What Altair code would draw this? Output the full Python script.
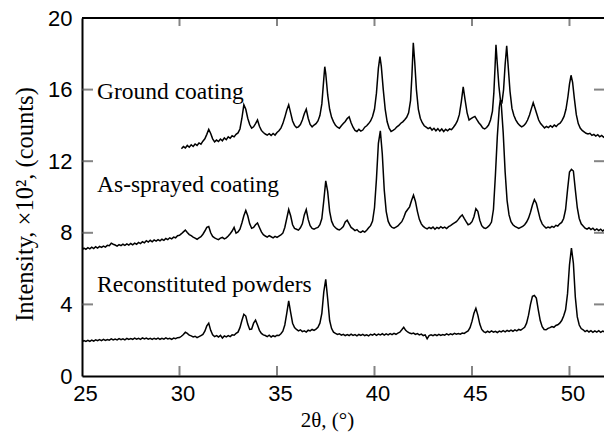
import altair as alt
import pandas as pd

# ---------------- data: (2theta, intensity x100) ----------------
recon_pts = [
(25.0,1.90),(25.1,1.98),(25.2,1.93),(25.3,1.99),(25.4,1.94),(25.5,2.01),(25.6,1.95),(25.7,2.02),(25.8,1.97),(25.9,2.03),
(26.0,1.98),(26.1,2.05),(26.2,1.99),(26.3,2.04),(26.4,2.00),(26.5,2.07),(26.6,2.01),(26.7,2.06),(26.8,2.02),(26.9,2.09),
(27.0,2.03),(27.1,2.08),(27.2,2.02),(27.3,2.10),(27.4,2.04),(27.5,2.09),(27.6,2.05),(27.7,2.12),(27.8,2.06),(27.9,2.11),
(28.0,2.05),(28.1,2.13),(28.2,2.07),(28.3,2.12),(28.4,2.06),(28.5,2.10),(28.6,2.04),(28.7,2.11),(28.8,2.06),(28.9,2.12),
(29.0,2.05),(29.1,2.10),(29.2,2.06),(29.3,2.13),(29.4,2.07),(29.5,2.11),(29.6,2.05),(29.7,2.12),(29.8,2.08),(29.9,2.14),
(30.0,2.15),(30.1,2.22),(30.2,2.32),(30.3,2.45),(30.4,2.38),(30.5,2.28),(30.6,2.24),(30.7,2.18),(30.8,2.22),(30.9,2.14),
(31.0,2.20),(31.1,2.26),(31.2,2.32),(31.3,2.50),(31.4,2.80),(31.5,2.95),(31.6,2.55),(31.7,2.30),(31.8,2.20),(31.9,2.26),
(32.0,2.18),(32.1,2.27),(32.2,2.12),(32.3,2.24),(32.4,2.18),(32.5,2.26),(32.6,2.20),(32.7,2.30),(32.8,2.28),(32.9,2.38),
(33.0,2.45),(33.1,2.70),(33.2,3.10),(33.3,3.45),(33.4,3.35),(33.5,2.90),(33.6,2.60),(33.7,2.62),(33.8,2.95),(33.9,3.12),
(34.0,2.85),(34.1,2.55),(34.2,2.38),(34.3,2.30),(34.4,2.26),(34.5,2.20),(34.6,2.28),(34.7,2.18),(34.8,2.25),(34.9,2.20),
(35.0,2.28),(35.1,2.26),(35.2,2.36),(35.3,2.50),(35.4,2.85),(35.5,3.50),(35.6,4.20),(35.7,3.55),(35.8,2.95),(35.9,2.70),
(36.0,2.60),(36.1,2.52),(36.2,2.58),(36.3,2.48),(36.4,2.52),(36.5,2.45),(36.6,2.56),(36.7,2.52),(36.8,2.60),(36.9,2.55),
(37.0,2.62),(37.1,2.72),(37.2,2.95),(37.3,3.50),(37.4,4.70),(37.5,5.40),(37.6,4.30),(37.7,3.10),(37.8,2.65),(37.9,2.45),
(38.0,2.38),(38.1,2.32),(38.2,2.36),(38.3,2.28),(38.4,2.33),(38.5,2.25),(38.6,2.31),(38.7,2.26),(38.8,2.34),(38.9,2.27),
(39.0,2.31),(39.1,2.24),(39.2,2.32),(39.3,2.27),(39.4,2.33),(39.5,2.26),(39.6,2.30),(39.7,2.24),(39.8,2.33),(39.9,2.28),
(40.0,2.35),(40.1,2.27),(40.2,2.34),(40.3,2.29),(40.4,2.36),(40.5,2.28),(40.6,2.35),(40.7,2.30),(40.8,2.37),(40.9,2.31),
(41.0,2.38),(41.1,2.33),(41.2,2.40),(41.3,2.45),(41.4,2.58),(41.5,2.72),(41.6,2.55),(41.7,2.46),(41.8,2.40),(41.9,2.36),
(42.0,2.40),(42.1,2.32),(42.2,2.37),(42.3,2.30),(42.4,2.34),(42.5,2.26),(42.6,2.30),(42.7,2.08),(42.8,2.26),(42.9,2.30),
(43.0,2.25),(43.1,2.31),(43.2,2.26),(43.3,2.33),(43.4,2.27),(43.5,2.32),(43.6,2.28),(43.7,2.35),(43.8,2.30),(43.9,2.36),
(44.0,2.31),(44.1,2.38),(44.2,2.33),(44.3,2.37),(44.4,2.34),(44.5,2.40),(44.6,2.38),(44.7,2.45),(44.8,2.52),(44.9,2.70),
(45.0,3.05),(45.1,3.50),(45.2,3.78),(45.3,3.40),(45.4,2.90),(45.5,2.60),(45.6,2.48),(45.7,2.42),(45.8,2.50),(45.9,2.44),
(46.0,2.52),(46.1,2.45),(46.2,2.50),(46.3,2.43),(46.4,2.51),(46.5,2.46),(46.6,2.53),(46.7,2.47),(46.8,2.55),(46.9,2.49),
(47.0,2.56),(47.1,2.50),(47.2,2.58),(47.3,2.52),(47.4,2.60),(47.5,2.56),(47.6,2.64),(47.7,2.72),(47.8,2.95),(47.9,3.40),
(48.0,4.00),(48.1,4.45),(48.2,4.50),(48.3,4.35),(48.4,3.70),(48.5,3.10),(48.6,2.75),(48.7,2.60),(48.8,2.58),(48.9,2.66),
(49.0,2.70),(49.1,2.76),(49.2,2.72),(49.3,2.82),(49.4,2.86),(49.5,2.95),(49.6,3.10),(49.7,3.35),(49.8,3.70),(49.9,4.60),
(50.0,6.20),(50.1,7.15),(50.2,6.30),(50.3,4.40),(50.4,3.30),(50.5,2.85),(50.6,2.65),(50.7,2.58),(50.8,2.48),(50.9,2.55),
(51.0,2.46),(51.1,2.53),(51.2,2.44),(51.3,2.52),(51.4,2.45),(51.5,2.53),(51.6,2.44),(51.7,2.51),(51.8,2.46)]

spray_pts = [
(25.0,7.05),(25.1,7.14),(25.2,7.08),(25.3,7.17),(25.4,7.10),(25.5,7.20),(25.6,7.12),(25.7,7.22),(25.8,7.15),(25.9,7.24),
(26.0,7.18),(26.1,7.26),(26.2,7.20),(26.3,7.30),(26.4,7.28),(26.5,7.42),(26.6,7.36),(26.7,7.32),(26.8,7.26),(26.9,7.34),
(27.0,7.28),(27.1,7.36),(27.2,7.30),(27.3,7.38),(27.4,7.31),(27.5,7.40),(27.6,7.33),(27.7,7.42),(27.8,7.36),(27.9,7.46),
(28.0,7.40),(28.1,7.50),(28.2,7.44),(28.3,7.56),(28.4,7.48),(28.5,7.58),(28.6,7.50),(28.7,7.60),(28.8,7.54),(28.9,7.62),
(29.0,7.55),(29.1,7.64),(29.2,7.58),(29.3,7.68),(29.4,7.62),(29.5,7.72),(29.6,7.66),(29.7,7.76),(29.8,7.72),(29.9,7.84),
(30.0,7.86),(30.1,7.95),(30.2,8.05),(30.3,8.15),(30.4,8.02),(30.5,7.90),(30.6,7.84),(30.7,7.76),(30.8,7.70),(30.9,7.64),
(31.0,7.72),(31.1,7.78),(31.2,7.92),(31.3,8.10),(31.4,8.30),(31.5,8.35),(31.6,8.00),(31.7,7.80),(31.8,7.72),(31.9,7.66),
(32.0,7.62),(32.1,7.70),(32.2,7.74),(32.3,7.66),(32.4,7.72),(32.5,7.82),(32.6,7.95),(32.7,8.10),(32.8,8.30),(32.9,7.98),
(33.0,8.05),(33.1,8.20),(33.2,8.55),(33.3,8.95),(33.4,9.25),(33.5,8.95),(33.6,8.50),(33.7,8.25),(33.8,8.30),(33.9,8.45),
(34.0,8.55),(34.1,8.30),(34.2,8.05),(34.3,7.90),(34.4,7.82),(34.5,7.76),(34.6,7.84),(34.7,7.78),(34.8,7.72),(34.9,7.80),
(35.0,7.74),(35.1,7.82),(35.2,7.88),(35.3,7.98),(35.4,8.30),(35.5,8.80),(35.6,9.30),(35.7,8.95),(35.8,8.45),(35.9,8.25),
(36.0,8.20),(36.1,8.15),(36.2,8.28),(36.3,8.50),(36.4,9.00),(36.5,9.30),(36.6,8.75),(36.7,8.40),(36.8,8.25),(36.9,8.20),
(37.0,8.26),(37.1,8.30),(37.2,8.45),(37.3,8.80),(37.4,9.80),(37.5,10.90),(37.6,10.30),(37.7,9.20),(37.8,8.65),(37.9,8.40),
(38.0,8.28),(38.1,8.20),(38.2,8.16),(38.3,8.24),(38.4,8.35),(38.5,8.60),(38.6,8.70),(38.7,8.50),(38.8,8.30),(38.9,8.22),
(39.0,8.12),(39.1,8.18),(39.2,8.06),(39.3,8.02),(39.4,8.10),(39.5,8.04),(39.6,8.14),(39.7,8.28),(39.8,8.40),(39.9,8.65),
(40.0,9.40),(40.1,11.00),(40.2,13.00),(40.3,13.70),(40.4,12.40),(40.5,10.40),(40.6,9.20),(40.7,8.65),(40.8,8.42),(40.9,8.30),
(41.0,8.26),(41.1,8.32),(41.2,8.38),(41.3,8.50),(41.4,8.62),(41.5,8.85),(41.6,9.15),(41.7,9.30),(41.8,9.45),(41.9,9.80),
(42.0,10.10),(42.1,9.75),(42.2,9.20),(42.3,8.75),(42.4,8.50),(42.5,8.36),(42.6,8.28),(42.7,8.22),(42.8,8.30),(42.9,8.24),
(43.0,8.32),(43.1,8.20),(43.2,8.30),(43.3,8.24),(43.4,8.34),(43.5,8.26),(43.6,8.32),(43.7,8.24),(43.8,8.34),(43.9,8.40),
(44.0,8.48),(44.1,8.55),(44.2,8.62),(44.3,8.75),(44.4,8.90),(44.5,9.00),(44.6,8.80),(44.7,8.62),(44.8,8.45),(44.9,8.50),
(45.0,8.62),(45.1,8.90),(45.2,9.35),(45.3,9.20),(45.4,8.70),(45.5,8.40),(45.6,8.28),(45.7,8.24),(45.8,8.32),(45.9,8.42),
(46.0,8.60),(46.1,9.30),(46.2,11.20),(46.3,13.40),(46.4,15.00),(46.45,15.40),(46.5,15.20),(46.6,13.60),(46.7,11.40),(46.8,9.80),
(46.9,9.00),(47.0,8.62),(47.1,8.45),(47.2,8.36),(47.3,8.30),(47.4,8.24),(47.5,8.30),(47.6,8.36),(47.7,8.45),(47.8,8.60),
(47.9,8.82),(48.0,9.15),(48.1,9.55),(48.2,9.85),(48.3,9.65),(48.4,9.20),(48.5,8.75),(48.6,8.50),(48.7,8.36),(48.8,8.26),
(48.9,8.32),(49.0,8.28),(49.1,8.36),(49.2,8.30),(49.3,8.42),(49.4,8.38),(49.5,8.50),(49.6,8.58),(49.7,8.80),(49.8,9.30),
(49.9,10.40),(50.0,11.40),(50.1,11.55),(50.2,11.45),(50.3,10.40),(50.4,9.40),(50.5,8.80),(50.6,8.50),(50.7,8.38),(50.8,8.26),
(50.9,8.20),(51.0,8.28),(51.1,8.18),(51.2,8.26),(51.3,8.14),(51.4,8.22),(51.5,8.12),(51.6,8.20),(51.7,8.10),(51.8,8.18)]

ground_pts = [
(30.1,12.70),(30.2,12.82),(30.3,12.74),(30.4,12.88),(30.5,12.78),(30.6,12.92),(30.7,12.82),(30.8,12.96),(30.9,12.88),(31.0,13.02),
(31.1,12.95),(31.2,13.12),(31.3,13.25),(31.4,13.50),(31.5,13.78),(31.6,13.55),(31.7,13.25),(31.8,13.08),(31.9,13.18),(32.0,13.10),
(32.1,13.24),(32.2,13.14),(32.3,13.30),(32.4,13.20),(32.5,13.36),(32.6,13.28),(32.7,13.42),(32.8,13.36),(32.9,13.50),(33.0,13.58),
(33.1,13.80),(33.2,14.40),(33.3,15.15),(33.4,14.90),(33.5,14.40),(33.6,14.05),(33.7,13.85),(33.8,13.92),(33.9,14.10),(34.0,14.30),
(34.1,13.95),(34.2,13.72),(34.3,13.60),(34.4,13.52),(34.5,13.46),(34.6,13.54),(34.7,13.44),(34.8,13.55),(34.9,13.46),(35.0,13.60),
(35.1,13.70),(35.2,13.85),(35.3,14.10),(35.4,14.45),(35.5,14.85),(35.6,15.15),(35.7,14.70),(35.8,14.25),(35.9,14.00),(36.0,13.88),
(36.1,13.92),(36.2,14.05),(36.3,14.30),(36.4,14.65),(36.5,14.90),(36.6,14.40),(36.7,14.05),(36.8,13.92),(36.9,14.02),(37.0,14.10),
(37.1,14.25),(37.2,14.55),(37.3,15.20),(37.4,16.60),(37.45,17.28),(37.5,16.90),(37.6,15.70),(37.7,14.90),(37.8,14.45),(37.9,14.20),
(38.0,14.00),(38.1,13.90),(38.2,13.84),(38.3,13.98),(38.4,14.10),(38.5,14.22),(38.6,14.38),(38.7,14.48),(38.8,14.15),(38.9,13.90),
(39.0,13.72),(39.1,13.66),(39.2,13.78),(39.3,13.68),(39.4,13.74),(39.5,13.90),(39.6,13.98),(39.7,14.10),(39.8,14.25),(39.9,14.50),
(40.0,14.90),(40.1,15.80),(40.2,17.20),(40.28,17.84),(40.35,17.30),(40.45,16.00),(40.55,14.90),(40.65,14.20),(40.75,13.85),(40.85,13.66),
(40.95,13.72),(41.05,13.80),(41.15,13.92),(41.25,14.00),(41.35,14.12),(41.45,14.20),(41.55,14.32),(41.65,14.45),(41.75,14.70),(41.85,15.40),
(41.92,16.80),(41.99,18.62),(42.06,17.60),(42.15,16.00),(42.25,14.90),(42.35,14.40),(42.45,14.15),(42.55,13.98),(42.65,13.90),(42.75,13.82),
(42.85,13.88),(42.95,13.74),(43.05,13.84),(43.15,13.70),(43.25,13.82),(43.35,13.68),(43.45,13.80),(43.55,13.66),(43.65,13.78),(43.75,13.70),
(43.85,13.80),(43.95,13.76),(44.05,13.90),(44.15,14.05),(44.25,14.25),(44.35,14.60),(44.45,15.30),(44.55,16.15),(44.65,15.40),(44.75,14.70),
(44.85,14.30),(44.95,14.38),(45.05,14.45),(45.15,14.50),(45.25,14.32),(45.35,14.15),(45.45,14.02),(45.55,13.86),(45.65,13.80),(45.75,13.88),
(45.85,14.02),(45.95,14.30),(46.05,14.80),(46.12,15.80),(46.18,17.20),(46.23,18.50),(46.3,17.40),(46.38,16.20),(46.46,15.40),(46.54,15.30),
(46.62,16.00),(46.7,17.40),(46.78,18.45),(46.85,17.40),(46.95,15.90),(47.05,14.95),(47.15,14.55),(47.25,14.30),(47.35,14.12),(47.45,14.00),
(47.55,13.92),(47.65,13.98),(47.75,14.10),(47.85,14.30),(47.95,14.58),(48.05,14.95),(48.14,15.27),(48.22,15.00),(48.32,14.65),(48.42,14.30),
(48.52,14.10),(48.62,13.98),(48.72,13.86),(48.82,13.94),(48.92,13.88),(49.02,13.98),(49.12,13.90),(49.22,14.02),(49.32,13.94),(49.42,14.06),
(49.52,14.12),(49.62,14.28),(49.72,14.50),(49.82,14.90),(49.92,15.60),(50.0,16.30),(50.08,16.80),(50.16,16.40),(50.25,15.50),(50.35,14.60),
(50.45,14.10),(50.55,13.85),(50.65,13.72),(50.75,13.64),(50.85,13.56),(50.95,13.52),(51.05,13.56),(51.15,13.44),(51.25,13.50),(51.35,13.40),
(51.45,13.48),(51.55,13.36),(51.65,13.44),(51.75,13.34),(51.8,13.38)]

series_names = ["Reconstituted powders", "As-sprayed coating", "Ground coating"]
label_x = [25.77, 25.77, 25.77]
label_y = [5.08, 10.67, 15.87]

x_ticks = [25, 30, 35, 40, 45, 50]
y_ticks = [0, 4, 8, 12, 16, 20]
x_domain = [25, 51.77]
y_domain = [0, 20]

# ---------------- tables ----------------
frames = []
for name, pts in zip(series_names, [recon_pts, spray_pts, ground_pts]):
    frames.append(pd.DataFrame({"theta": [p[0] for p in pts], "intensity": [p[1] for p in pts], "series": name}))
lines_df = pd.concat(frames, ignore_index=True)
labels_df = pd.DataFrame({"x": label_x, "y": label_y, "text": series_names})
xb_df = pd.DataFrame({"xb": x_ticks[1:]})
xtp_df = pd.DataFrame({"xtp": x_ticks[1:]})
yl_df = pd.DataFrame({"yl": y_ticks[1:-1]})
yr_df = pd.DataFrame({"yr": y_ticks[1:-1]})

W, H = 522, 358
SERIF = "Liberation Serif"
SANS = "Liberation Sans"
TICK = "#505050"

xscale = alt.Scale(domain=x_domain, nice=False, zero=False)
yscale = alt.Scale(domain=y_domain, nice=False)

x_axis = alt.Axis(values=x_ticks, title="2θ, (°)", grid=False, tickSize=0, labelPadding=7, labelOffset=3,
                  labelFont=SANS, labelFontSize=22, labelColor="black",
                  titleFont=SERIF, titleFontSize=21, titleFontWeight="normal", titleColor="black",
                  titlePadding=5, titleX=245, domainColor="black", domainWidth=2, labelFlush=False)
y_axis = alt.Axis(values=y_ticks, title="Intensity, ×10², (counts)", grid=False, tickSize=0, labelPadding=10,
                  labelFont=SANS, labelFontSize=22, labelColor="black",
                  titleFont=SERIF, titleFontSize=24.5, titleFontWeight="normal", titleColor="black",
                  titlePadding=10, titleY=186, domainColor="black", domainWidth=2, labelFlush=False)

lines = alt.Chart(lines_df).mark_line(color="black", strokeWidth=1.5, clip=True).encode(
    x=alt.X("theta:Q", scale=xscale, axis=x_axis),
    y=alt.Y("intensity:Q", scale=yscale, axis=y_axis),
    detail="series:N",
)

# inward-pointing tick stubs, drawn as ticks (same form that rendered in tests)
xt_bottom = alt.Chart(xb_df).mark_tick(orient="vertical", color=TICK, thickness=2, size=10).encode(
    x=alt.X("xb:Q", scale=xscale), y=alt.value(H - 5))
xt_top = alt.Chart(xtp_df).mark_tick(orient="vertical", color=TICK, thickness=2, size=8).encode(
    x=alt.X("xtp:Q", scale=xscale), y=alt.value(4))
yt_left = alt.Chart(yl_df).mark_tick(orient="horizontal", color=TICK, thickness=2, size=11).encode(
    y=alt.Y("yl:Q", scale=yscale), x=alt.value(5.5))
yt_right = alt.Chart(yr_df).mark_tick(orient="horizontal", color=TICK, thickness=2, size=10).encode(
    y=alt.Y("yr:Q", scale=yscale), x=alt.value(W - 5))

texts = alt.Chart(labels_df).mark_text(align="left", baseline="middle", font=SERIF, fontSize=23.5,
                                       color="black").encode(
    x=alt.X("x:Q", scale=xscale),
    y=alt.Y("y:Q", scale=yscale),
    text="text:N",
)

top_line = alt.Chart(labels_df).mark_rule(color="black", strokeWidth=2).encode(
    x=alt.value(0), x2=alt.value(W), y=alt.value(0))

chart = alt.layer(lines, xt_bottom, xt_top, yt_left, yt_right, texts, top_line).properties(
    width=W, height=H,
    padding={"left": 82, "top": 18, "right": 0, "bottom": 58},
    autosize=alt.AutoSizeParams(type="none"),
).configure_view(stroke=None).configure(background="white")

chart.save("out.html", embed_options={"renderer": "svg", "actions": False})
